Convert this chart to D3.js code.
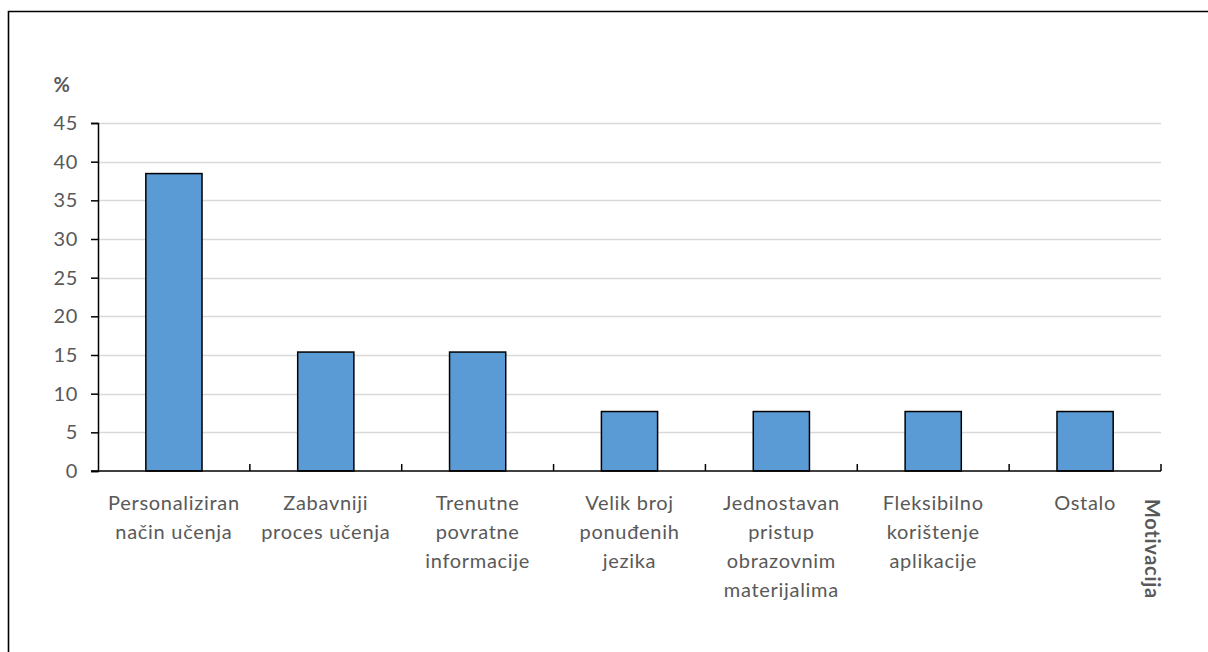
<!DOCTYPE html>
<html>
<head>
<meta charset="utf-8">
<script src="https://cdn.jsdelivr.net/npm/d3@7/dist/d3.min.js"></script>
<style>
  body { margin: 0; background: #fff; }
  text { font-family: "Lato", "Open Sans", sans-serif; letter-spacing: 0.7px; }
</style>
</head>
<body>
<script>
  // data - share of respondents (%), 13 answers total
  var categories = [
    ["Personaliziran", "način učenja"],
    ["Zabavniji", "proces učenja"],
    ["Trenutne", "povratne", "informacije"],
    ["Velik broj", "ponuđenih", "jezika"],
    ["Jednostavan", "pristup", "obrazovnim", "materijalima"],
    ["Fleksibilno", "korištenje", "aplikacije"],
    ["Ostalo"]
  ];
  var values = [38.46, 15.38, 15.38, 7.69, 7.69, 7.69, 7.69];
  var yTicks = [0, 5, 10, 15, 20, 25, 30, 35, 40, 45];

  var width = 1208, height = 652;
  var margin = {top: 123, right: 47, bottom: 181, left: 98};

  var svg = d3.select("body").append("svg")
    .attr("width", width)
    .attr("height", height);

  // outer frame (only top/left visible)
  svg.append("path")
    .attr("d", "M8.5," + (height + 2) + "V11.5H" + (width + 2))
    .attr("fill", "none")
    .attr("stroke", "#000")
    .attr("stroke-width", 1.6);

  var x = d3.scaleBand()
    .domain(d3.range(categories.length))
    .range([margin.left, width - margin.right])
    .paddingInner(0.63)
    .paddingOuter(0.315);

  var y = d3.scaleLinear()
    .domain([0, 45])
    .range([height - margin.bottom, margin.top]);

  // gridlines
  svg.append("g")
    .selectAll("line")
    .data(yTicks.slice(1))
    .enter().append("line")
    .attr("x1", margin.left)
    .attr("x2", width - margin.right)
    .attr("y1", function(d) { return Math.round(y(d)) + 0.5; })
    .attr("y2", function(d) { return Math.round(y(d)) + 0.5; })
    .attr("stroke", "#d9d9d9")
    .attr("stroke-width", 1.5);

  // bars
  svg.append("g")
    .selectAll("rect")
    .data(values)
    .enter().append("rect")
    .attr("x", function(d, i) { return x(i); })
    .attr("y", function(d) { return y(d); })
    .attr("width", x.bandwidth())
    .attr("height", function(d) { return y(0) - y(d); })
    .attr("fill", "#5b9bd5")
    .attr("stroke", "#000")
    .attr("stroke-width", 1.5);

  // y axis
  var yAxis = svg.append("g")
    .attr("transform", "translate(" + margin.left + ",0)")
    .call(d3.axisLeft(y).tickValues(yTicks).tickSize(7).tickPadding(13));
  yAxis.select(".domain").attr("stroke", "#000").attr("stroke-width", 1.5);
  yAxis.selectAll(".tick line").attr("stroke", "#000").attr("stroke-width", 1.5);
  yAxis.selectAll(".tick text")
    .attr("fill", "#595959")
    .style("font-family", "Lato, sans-serif")
    .style("font-size", "20px");

  // x axis line and inside ticks at category boundaries
  var bounds = d3.range(categories.length + 1).map(function(i) {
    return margin.left + i * (width - margin.left - margin.right) / categories.length;
  });
  svg.append("line")
    .attr("x1", margin.left - 7)
    .attr("x2", width - margin.right)
    .attr("y1", y(0))
    .attr("y2", y(0))
    .attr("stroke", "#000")
    .attr("stroke-width", 1.5);
  svg.append("g")
    .selectAll("line")
    .data(bounds.slice(1))
    .enter().append("line")
    .attr("x1", function(d) { return d; })
    .attr("x2", function(d) { return d; })
    .attr("y1", y(0))
    .attr("y2", y(0) - 7)
    .attr("stroke", "#000")
    .attr("stroke-width", 1.5);

  // category labels
  var labels = svg.append("g")
    .selectAll("text")
    .data(categories)
    .enter().append("text")
    .attr("text-anchor", "middle")
    .attr("fill", "#595959")
    .style("font-size", "20px");
  labels.each(function(lines, i) {
    var t = d3.select(this);
    lines.forEach(function(l, j) {
      t.append("tspan")
        .attr("x", x(i) + x.bandwidth() / 2)
        .attr("y", 510 + j * 29)
        .text(l);
    });
  });

  // axis titles
  svg.append("text")
    .attr("x", 62)
    .attr("y", 92)
    .attr("text-anchor", "middle")
    .attr("fill", "#595959")
    .style("font-size", "20px")
    .style("font-weight", "bold")
    .text("%");

  svg.append("text")
    .attr("transform", "translate(1145,499) rotate(90)")
    .attr("fill", "#595959")
    .style("font-size", "20px")
    .style("font-weight", "bold")
    .text("Motivacija");
</script>
</body>
</html>
